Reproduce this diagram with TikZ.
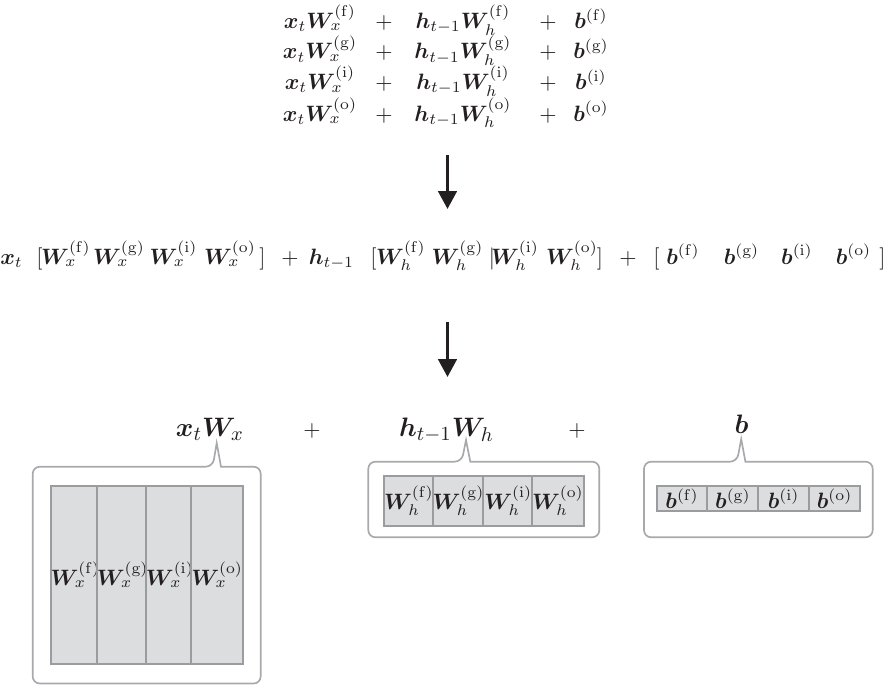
\documentclass[tikz,border=0pt]{standalone}
\usepackage{amsmath,bm}
\usetikzlibrary{arrows.meta}
\definecolor{ink}{HTML}{231F20}
\definecolor{boxline}{HTML}{A7A9AC}
\definecolor{gridline}{HTML}{9A9C9F}
\definecolor{cellfill}{HTML}{DCDDDF}
\newcommand\xW[1]{\bm{W}_x^{(\mathrm{#1})}}
\newcommand\hW[1]{\bm{W}_h^{(\mathrm{#1})}}
\newcommand\bb[1]{\bm{b}^{(\mathrm{#1})}}
\begin{document}
\begin{tikzpicture}[x=0.45pt,y=-0.45pt,
  txt/.style={inner sep=0pt,anchor=base,text=ink},
  big/.style={txt,font=\fontsize{13}{15}\selectfont},
  bigarrow/.style={draw=ink,line width=1.5pt,-{Triangle[width=8.2pt,length=8pt]}},
  callout/.style={draw=boxline,line width=0.75pt,rounded corners=3.2pt},
  cell/.style={draw=gridline,fill=cellfill,line width=0.9pt,inner sep=0pt,text=ink}]
\useasboundingbox (0,0) rectangle (891,690);

% ---- top block ----
\foreach \r/\s/\y in {1/f/28.3,2/g/58.7,3/i/89.5,4/o/121}{
  \node[txt] (t\r a) at (320,\y) {$\bm{x}_t\xW{\s}$};
  \node[txt] (t\r p) at (384,\y) {$+$};
  \node[txt] (t\r b) at (463,\y) {$\bm{h}_{t-1}\hW{\s}$};
  \node[txt] (t\r q) at (548,\y) {$+$};
  \node[txt] (t\r c) at (591,\y) {$\bb{\s}$};
}

% ---- arrow 1 ----
\coordinate (a1s) at (447.5,155);
\coordinate (a1e) at (447.5,209);
\draw[bigarrow] (a1s) -- (a1e);

% ---- middle row ----
\node[txt] (mx) at (11.5,264) {$\bm{x}_t$};
\node[txt] (mb1) at (39.5,264) {$[$};
\node[txt] (mxf) at (66,264) {$\xW{f}$};
\node[txt] (mxg) at (119,264) {$\xW{g}$};
\node[txt] (mxi) at (173.5,264) {$\xW{i}$};
\node[txt] (mxo) at (230,264) {$\xW{o}$};
\node[txt] (mb2) at (262.5,264) {$]$};
\node[txt] (mp1) at (290,264) {$+$};
\node[txt] (mh) at (331.5,264) {$\bm{h}_{t-1}$};
\node[txt] (mb3) at (373.5,264) {$[$};
\node[txt] (mhf) at (401,264) {$\hW{f}$};
\node[txt] (mhg) at (457.5,264) {$\hW{g}$};
\node[txt] (mbar) at (492,264) {$|$};
\node[txt] (mhi) at (515,264) {$\hW{i}$};
\node[txt] (mho) at (572,264) {$\hW{o}$};
\node[txt] (mb4) at (600,264) {$]$};
\node[txt] (mp2) at (628,264) {$+$};
\node[txt] (mb5) at (656.5,264) {$[$};
\node[txt] (mbf) at (683,264) {$\bb{f}$};
\node[txt] (mbg) at (741.5,264) {$\bb{g}$};
\node[txt] (mbi) at (797,264) {$\bb{i}$};
\node[txt] (mbo) at (853.5,264) {$\bb{o}$};
\node[txt] (mb6) at (882.5,264) {$]$};

% ---- arrow 2 ----
\coordinate (a2s) at (447.5,322);
\coordinate (a2e) at (447.5,377);
\draw[bigarrow] (a2s) -- (a2e);

% ---- bottom labels ----
\node[big] (lx) at (210,436.5) {$\bm{x}_t\bm{W}_x$};
\node[txt] (lp1) at (312,436.5) {$+$};
\node[big] (lh) at (446.5,436.5) {$\bm{h}_{t-1}\bm{W}_h$};
\node[txt] (lp2) at (577,436.5) {$+$};
\node[big] (lb) at (741.5,433.5) {$\bm{b}$};

% ---- callouts ----
\draw[callout] (32.7,570) -- (32.7,466.7) -- (212.7,466.7)
  [sharp corners] -- (216.7,443) -- (221,466.7)
  [rounded corners=3.2pt] -- (260.7,466.7) -- (260.7,683.5) -- (32.7,683.5) -- cycle;
\draw[callout] (368.3,500) -- (368.3,461.7) -- (461.7,461.7)
  [sharp corners] -- (466,440) -- (470.3,461.7)
  [rounded corners=3.2pt] -- (599.3,461.7) -- (599.3,537.3) -- (368.3,537.3) -- cycle;
\draw[callout] (644,500) -- (644,461.7) -- (737,461.7)
  [sharp corners] -- (741.2,439) -- (745.4,461.7)
  [rounded corners=3.2pt] -- (872.7,461.7) -- (872.7,537.3) -- (644,537.3) -- cycle;

% ---- cells ----
\foreach \s/\cx [count=\k] in {f/75.3,g/122.6,i/169.9,o/217.1}{
  \node[cell,minimum width=21.26pt,minimum height=80.1pt] (cx\k) at (\cx,575) {$\xW{\s}$};
}
\foreach \s/\cx [count=\k] in {f/408.8,g/458.5,i/508.2,o/557.9}{
  \node[cell,minimum width=22.36pt,minimum height=22.5pt] (ch\k) at (\cx,501) {$\hW{\s}$};
}
\foreach \s/\cx [count=\k] in {f/682.1,g/732.9,i/783.7,o/834.6}{
  \node[cell,minimum width=22.87pt,minimum height=11.25pt] (cb\k) at (\cx,498.5) {$\bb{\s}$};
}
\end{tikzpicture}
\end{document}
